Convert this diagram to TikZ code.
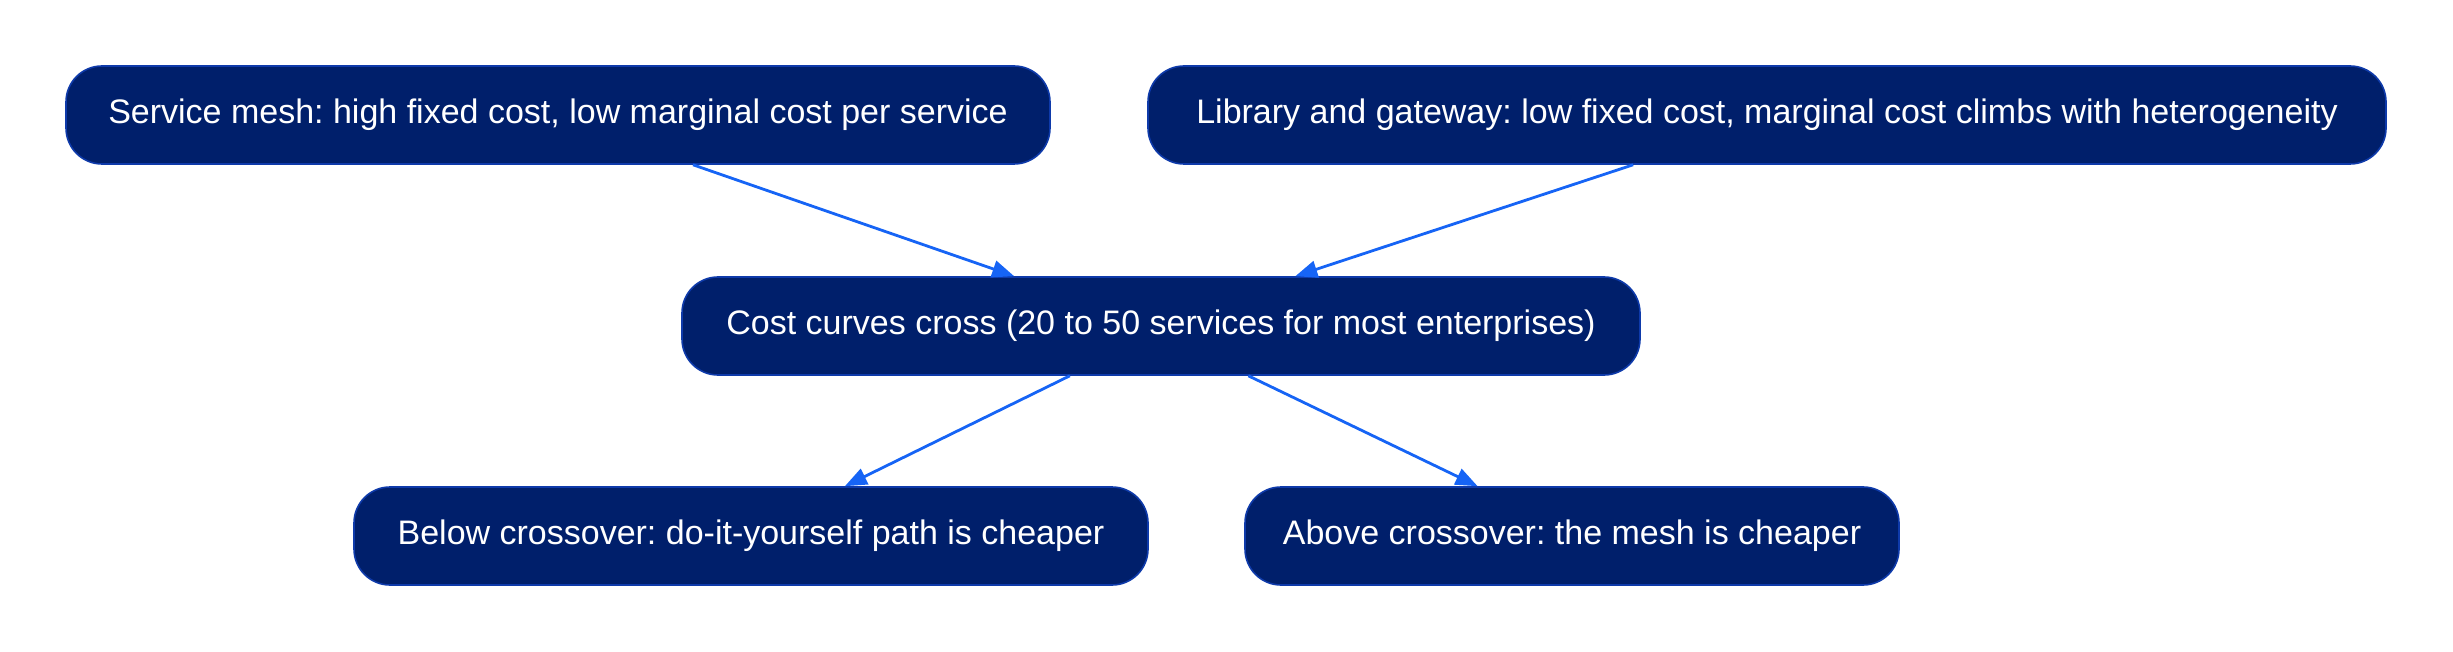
\documentclass[tikz,border=0pt]{standalone}
\usepackage{fontspec}
\setmainfont{Liberation Sans}
\usetikzlibrary{arrows.meta,calc}
\frenchspacing
\definecolor{boxfill}{RGB}{0,31,107}
\definecolor{boxline}{RGB}{14,58,170}
\definecolor{arrowc}{RGB}{22,100,245}
\tikzset{
  box/.style={draw=boxline, line width=0.8pt, fill=boxfill, rounded corners=18pt,
    text=white, font=\fontsize{17pt}{20pt}\selectfont, minimum height=49pt,
    inner sep=0pt, anchor=center},
  conn/.style={draw=arrowc, line width=1.4pt, -{Triangle[length=11pt,width=8.5pt]}}
}
\begin{document}
\begin{tikzpicture}[x=0.5pt,y=-0.5pt]
\useasboundingbox (0,0) rectangle (2453,652);
\node[box, minimum width=492pt] (mesh) at (558,115) {Service mesh: high fixed cost, low marginal cost per service};
\node[box, minimum width=619pt] (lib) at (1767,115) {Library and gateway: low fixed cost, marginal cost climbs with heterogeneity};
\node[box, minimum width=479pt] (cross) at (1161,326) {Cost curves cross (20 to 50 services for most enterprises)};
\node[box, minimum width=397pt] (below) at (751,536) {Below crossover: do-it-yourself path is cheaper};
\node[box, minimum width=327pt] (above) at (1572,536) {Above crossover: the mesh is cheaper};
\draw[conn] ($(mesh.south west)!0.637!(mesh.south east)$) -- ($(cross.north west)!0.347!(cross.north east)$);
\draw[conn] ($(lib.south west)!0.392!(lib.south east)$) -- ($(cross.north west)!0.640!(cross.north east)$);
\draw[conn] ($(cross.south west)!0.405!(cross.south east)$) -- ($(below.north west)!0.618!(below.north east)$);
\draw[conn] ($(cross.south west)!0.591!(cross.south east)$) -- ($(above.north west)!0.356!(above.north east)$);
\end{tikzpicture}
\end{document}
